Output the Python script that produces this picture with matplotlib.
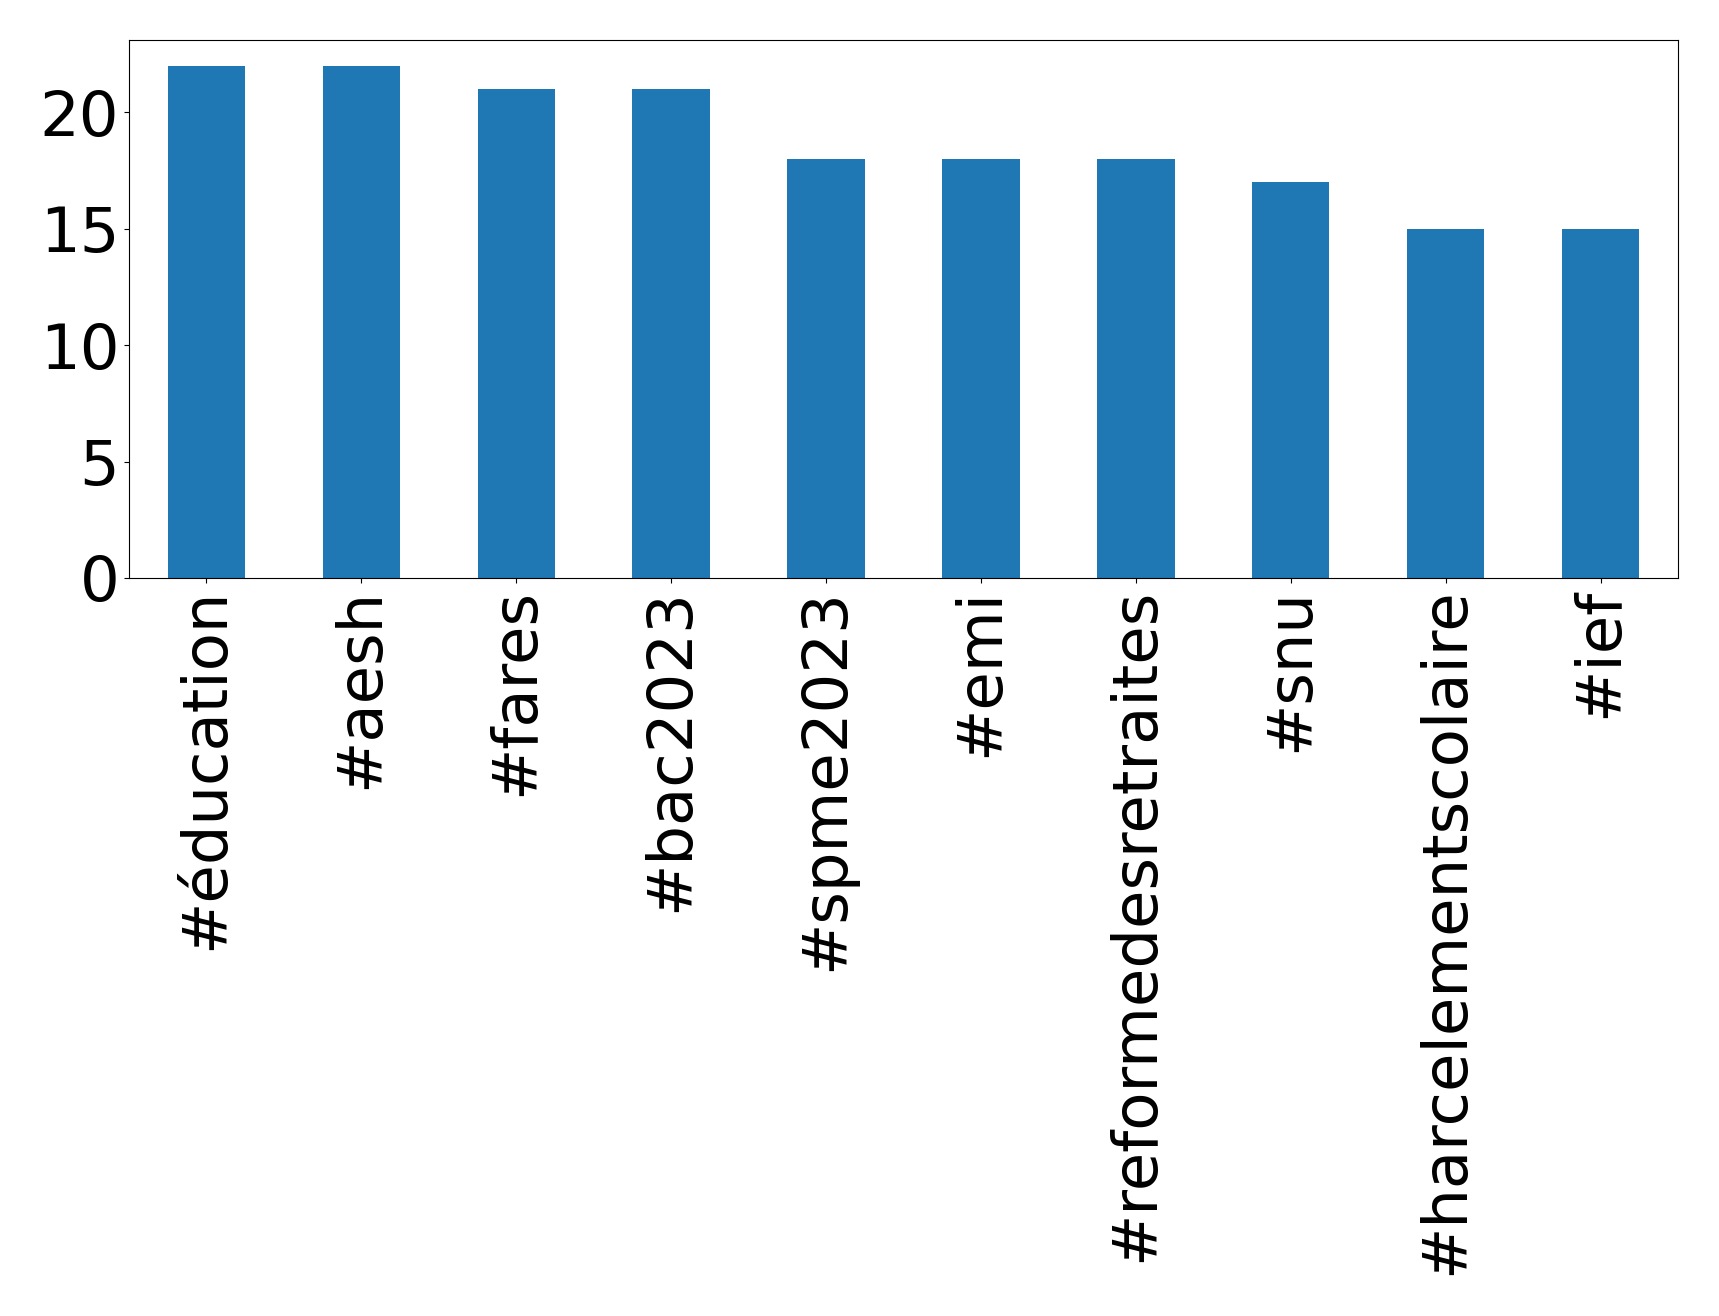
import matplotlib
matplotlib.use("Agg")
import matplotlib.pyplot as plt
import numpy as np

hashtags = ["#éducation", "#aesh", "#fares", "#bac2023", "#spme2023", "#emi",
            "#reformedesretraites", "#snu", "#harcelementscolaire", "#ief"]
counts = [22, 22, 21, 21, 18, 18, 18, 17, 15, 15]

fig = plt.figure(figsize=(17.19, 13.16), dpi=100)
ax = fig.add_axes([129 / 1719, 1 - 578 / 1316, (1678 - 129) / 1719, (578 - 40) / 1316])
x = np.arange(len(hashtags))
ax.bar(x, counts, width=0.5, color="#1f77b4")
ax.set_xlim(-0.5, len(hashtags) - 0.5)
ax.set_ylim(0, max(counts) * 1.05)
ax.set_yticks([0, 5, 10, 15, 20])
ax.set_xticks(x)
ax.set_xticklabels(hashtags, rotation=90)
ax.tick_params(labelsize=45)

fig.savefig("out.png", dpi=100)
